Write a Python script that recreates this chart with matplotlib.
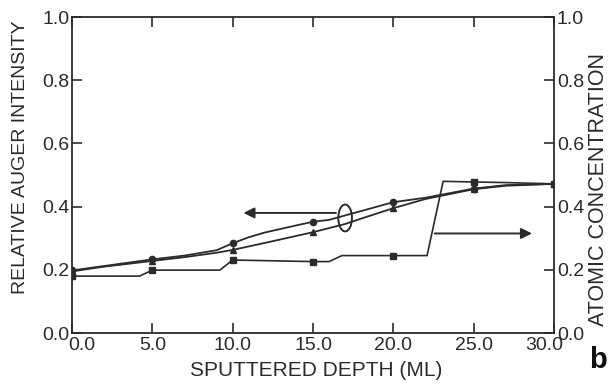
import matplotlib.pyplot as plt
from matplotlib.patches import Ellipse
from matplotlib.transforms import ScaledTranslation

plt.rcParams['font.family'] = ['Liberation Sans', 'DejaVu Sans']

ink = '#2b2b2b'

# marker positions (depth in ML)
depth = [0, 5, 10, 15, 20, 25, 30]
auger_circle = [0.198, 0.233, 0.284, 0.352, 0.414, 0.457, 0.472]
auger_triangle = [0.195, 0.228, 0.263, 0.319, 0.395, 0.455, 0.472]
conc_square = [0.180, 0.199, 0.231, 0.226, 0.245, 0.478, 0.472]

# traced curves between the markers
circle_x = [0, 2, 5, 7, 9, 10, 11, 12, 14, 15, 16, 17, 18, 20, 22, 25, 27, 30]
circle_y = [0.198, 0.212, 0.233, 0.245, 0.262, 0.284, 0.303, 0.318, 0.341, 0.352, 0.358, 0.372, 0.386, 0.414, 0.428, 0.457, 0.468, 0.472]
tri_x = [0, 2, 5, 7, 9, 10, 12, 15, 17, 18, 20, 22, 25, 27, 30]
tri_y = [0.195, 0.210, 0.228, 0.240, 0.254, 0.263, 0.285, 0.319, 0.345, 0.362, 0.395, 0.424, 0.455, 0.466, 0.472]
sq_x = [0, 4.2, 5, 9.2, 10, 15, 16.0, 16.8, 20, 22.1, 23.1, 25, 27, 30]
sq_y = [0.180, 0.180, 0.199, 0.199, 0.231, 0.226, 0.226, 0.245, 0.245, 0.245, 0.480, 0.478, 0.476, 0.472]

xtick_labels = ['0.0', '5.0', '10.0', '15.0', '20.0', '25.0', '30.0']
ytick_labels = ['0.0', '0.2', '0.4', '0.6', '0.8', '1.0']

fig = plt.figure(figsize=(6.1, 3.84), dpi=100)
ax = fig.add_axes([72 / 610, 1 - 333 / 384, (554 - 72) / 610, (333 - 17) / 384])

ax.plot(circle_x, circle_y, color=ink, lw=1.3)
ax.plot(depth, auger_circle, 'o', color=ink, ms=4.5)
ax.plot(tri_x, tri_y, color=ink, lw=1.3)
ax.plot(depth, auger_triangle, '^', color=ink, ms=5)
ax.plot(sq_x, sq_y, color=ink, lw=1.2)
ax.plot(depth, conc_square, 's', color=ink, ms=4.5)

ax.add_patch(Ellipse((17.0, 0.364), 0.85, 0.085, fill=False, ec=ink, lw=1.4))
ax.annotate('', xy=(10.5, 0.38), xytext=(16.6, 0.38),
            arrowprops=dict(arrowstyle='-|>', color=ink, lw=1.4, mutation_scale=16))
ax.annotate('', xy=(28.8, 0.315), xytext=(22.4, 0.315),
            arrowprops=dict(arrowstyle='-|>', color=ink, lw=1.4, mutation_scale=16))

ax.set_xlim(0, 30)
ax.set_ylim(0, 1.0)
ax.set_xticks(depth)
ax.set_xticklabels(xtick_labels)
ax.set_yticks([0, 0.2, 0.4, 0.6, 0.8, 1.0])
ax.set_yticklabels(ytick_labels)
ax.tick_params(direction='in', length=7, width=1.2, colors=ink, labelsize=14,
               top=True, right=True, labelright=True, pad=2)
ax.tick_params(axis='x', pad=3)
for s in ax.spines.values():
    s.set_color(ink)
    s.set_linewidth(1.3)

# end labels of the x axis sit off their ticks
xl = ax.get_xticklabels()
xl[0].set_transform(xl[0].get_transform() + ScaledTranslation(0.10, 0, fig.dpi_scale_trans))
xl[-1].set_transform(xl[-1].get_transform() + ScaledTranslation(-0.10, 0, fig.dpi_scale_trans))

fig.text(316 / 610, 1 - 371 / 384, 'SPUTTERED DEPTH (ML)', ha='center', va='center',
         fontsize=15, color=ink)
fig.text(21 / 610, 1 - 157 / 384, 'RELATIVE AUGER INTENSITY', rotation=90,
         ha='center', va='center', fontsize=14, color=ink)
fig.text(599 / 610, 1 - 190 / 384, 'ATOMIC CONCENTRATION', rotation=90,
         ha='center', va='center', fontsize=15.5, color=ink)
fig.text(598 / 610, 1 - 360 / 384, 'b', ha='center', va='center',
         fontsize=21, fontweight='bold', color='#111111')

fig.savefig('out.png', dpi=100)
